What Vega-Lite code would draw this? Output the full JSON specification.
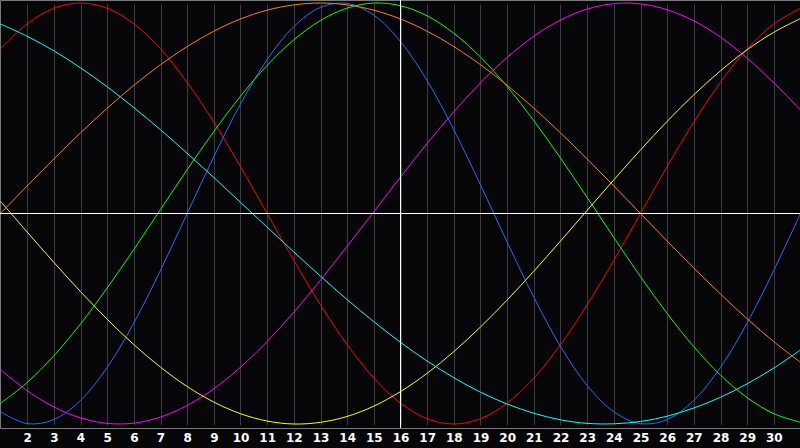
{
  "$schema": "https://vega.github.io/schema/vega-lite/v6.json",
  "width": 800,
  "height": 428,
  "autosize": "none",
  "padding": {"left": 0, "right": 0, "top": 0, "bottom": 20},
  "background": "#060609",
  "config": {"view": {"stroke": "#7a7a7a", "strokeWidth": 1, "fill": "#060609"}},
  "datasets": {
    "marks": [{"d": 16, "v": 0}],
    "cycles": [
    {"s":"Emotional","d":1,"v":0.782},{"s":"Emotional","d":2,"v":0.901},{"s":"Emotional","d":3,"v":0.975},{"s":"Emotional","d":4,"v":1},{"s":"Emotional","d":5,"v":0.975},{"s":"Emotional","d":6,"v":0.901},{"s":"Emotional","d":7,"v":0.782},{"s":"Emotional","d":8,"v":0.623},{"s":"Emotional","d":9,"v":0.434},{"s":"Emotional","d":10,"v":0.223},{"s":"Emotional","d":11,"v":0},{"s":"Emotional","d":12,"v":-0.223},{"s":"Emotional","d":13,"v":-0.434},{"s":"Emotional","d":14,"v":-0.623},{"s":"Emotional","d":15,"v":-0.782},{"s":"Emotional","d":16,"v":-0.901},{"s":"Emotional","d":17,"v":-0.975},{"s":"Emotional","d":18,"v":-1},{"s":"Emotional","d":19,"v":-0.975},{"s":"Emotional","d":20,"v":-0.901},{"s":"Emotional","d":21,"v":-0.782},{"s":"Emotional","d":22,"v":-0.623},{"s":"Emotional","d":23,"v":-0.434},{"s":"Emotional","d":24,"v":-0.223},{"s":"Emotional","d":25,"v":0},{"s":"Emotional","d":26,"v":0.223},{"s":"Emotional","d":27,"v":0.434},{"s":"Emotional","d":28,"v":0.623},{"s":"Emotional","d":29,"v":0.782},{"s":"Emotional","d":30,"v":0.901},{"s":"Emotional","d":31,"v":0.975},
    {"s":"Physical","d":1,"v":-0.942},{"s":"Physical","d":2,"v":-0.998},{"s":"Physical","d":3,"v":-0.979},{"s":"Physical","d":4,"v":-0.888},{"s":"Physical","d":5,"v":-0.731},{"s":"Physical","d":6,"v":-0.52},{"s":"Physical","d":7,"v":-0.27},{"s":"Physical","d":8,"v":0},{"s":"Physical","d":9,"v":0.27},{"s":"Physical","d":10,"v":0.52},{"s":"Physical","d":11,"v":0.731},{"s":"Physical","d":12,"v":0.888},{"s":"Physical","d":13,"v":0.979},{"s":"Physical","d":14,"v":0.998},{"s":"Physical","d":15,"v":0.942},{"s":"Physical","d":16,"v":0.817},{"s":"Physical","d":17,"v":0.631},{"s":"Physical","d":18,"v":0.398},{"s":"Physical","d":19,"v":0.136},{"s":"Physical","d":20,"v":-0.136},{"s":"Physical","d":21,"v":-0.398},{"s":"Physical","d":22,"v":-0.631},{"s":"Physical","d":23,"v":-0.817},{"s":"Physical","d":24,"v":-0.942},{"s":"Physical","d":25,"v":-0.998},{"s":"Physical","d":26,"v":-0.979},{"s":"Physical","d":27,"v":-0.888},{"s":"Physical","d":28,"v":-0.731},{"s":"Physical","d":29,"v":-0.52},{"s":"Physical","d":30,"v":-0.27},{"s":"Physical","d":31,"v":0},
    {"s":"Intellectual","d":1,"v":-0.902},{"s":"Intellectual","d":2,"v":-0.803},{"s":"Intellectual","d":3,"v":-0.676},{"s":"Intellectual","d":4,"v":-0.525},{"s":"Intellectual","d":5,"v":-0.354},{"s":"Intellectual","d":6,"v":-0.171},{"s":"Intellectual","d":7,"v":0.019},{"s":"Intellectual","d":8,"v":0.208},{"s":"Intellectual","d":9,"v":0.389},{"s":"Intellectual","d":10,"v":0.557},{"s":"Intellectual","d":11,"v":0.704},{"s":"Intellectual","d":12,"v":0.825},{"s":"Intellectual","d":13,"v":0.917},{"s":"Intellectual","d":14,"v":0.976},{"s":"Intellectual","d":15,"v":1.0},{"s":"Intellectual","d":16,"v":0.987},{"s":"Intellectual","d":17,"v":0.939},{"s":"Intellectual","d":18,"v":0.856},{"s":"Intellectual","d":19,"v":0.743},{"s":"Intellectual","d":20,"v":0.603},{"s":"Intellectual","d":21,"v":0.441},{"s":"Intellectual","d":22,"v":0.263},{"s":"Intellectual","d":23,"v":0.076},{"s":"Intellectual","d":24,"v":-0.114},{"s":"Intellectual","d":25,"v":-0.3},{"s":"Intellectual","d":26,"v":-0.475},{"s":"Intellectual","d":27,"v":-0.633},{"s":"Intellectual","d":28,"v":-0.768},{"s":"Intellectual","d":29,"v":-0.875},{"s":"Intellectual","d":30,"v":-0.951},{"s":"Intellectual","d":31,"v":-0.992},
    {"s":"Intuitive","d":1,"v":-0.741},{"s":"Intuitive","d":2,"v":-0.842},{"s":"Intuitive","d":3,"v":-0.919},{"s":"Intuitive","d":4,"v":-0.971},{"s":"Intuitive","d":5,"v":-0.997},{"s":"Intuitive","d":6,"v":-0.996},{"s":"Intuitive","d":7,"v":-0.967},{"s":"Intuitive","d":8,"v":-0.912},{"s":"Intuitive","d":9,"v":-0.833},{"s":"Intuitive","d":10,"v":-0.73},{"s":"Intuitive","d":11,"v":-0.608},{"s":"Intuitive","d":12,"v":-0.469},{"s":"Intuitive","d":13,"v":-0.317},{"s":"Intuitive","d":14,"v":-0.156},{"s":"Intuitive","d":15,"v":0.008},{"s":"Intuitive","d":16,"v":0.173},{"s":"Intuitive","d":17,"v":0.333},{"s":"Intuitive","d":18,"v":0.483},{"s":"Intuitive","d":19,"v":0.621},{"s":"Intuitive","d":20,"v":0.741},{"s":"Intuitive","d":21,"v":0.842},{"s":"Intuitive","d":22,"v":0.919},{"s":"Intuitive","d":23,"v":0.971},{"s":"Intuitive","d":24,"v":0.997},{"s":"Intuitive","d":25,"v":0.996},{"s":"Intuitive","d":26,"v":0.968},{"s":"Intuitive","d":27,"v":0.915},{"s":"Intuitive","d":28,"v":0.838},{"s":"Intuitive","d":29,"v":0.738},{"s":"Intuitive","d":30,"v":0.62},{"s":"Intuitive","d":31,"v":0.492},
    {"s":"Aesthetic","d":1,"v":0.058},{"s":"Aesthetic","d":2,"v":-0.088},{"s":"Aesthetic","d":3,"v":-0.232},{"s":"Aesthetic","d":4,"v":-0.371},{"s":"Aesthetic","d":5,"v":-0.502},{"s":"Aesthetic","d":6,"v":-0.623},{"s":"Aesthetic","d":7,"v":-0.73},{"s":"Aesthetic","d":8,"v":-0.822},{"s":"Aesthetic","d":9,"v":-0.896},{"s":"Aesthetic","d":10,"v":-0.951},{"s":"Aesthetic","d":11,"v":-0.986},{"s":"Aesthetic","d":12,"v":-1.0},{"s":"Aesthetic","d":13,"v":-0.992},{"s":"Aesthetic","d":14,"v":-0.964},{"s":"Aesthetic","d":15,"v":-0.915},{"s":"Aesthetic","d":16,"v":-0.846},{"s":"Aesthetic","d":17,"v":-0.759},{"s":"Aesthetic","d":18,"v":-0.656},{"s":"Aesthetic","d":19,"v":-0.539},{"s":"Aesthetic","d":20,"v":-0.411},{"s":"Aesthetic","d":21,"v":-0.274},{"s":"Aesthetic","d":22,"v":-0.131},{"s":"Aesthetic","d":23,"v":0.015},{"s":"Aesthetic","d":24,"v":0.16},{"s":"Aesthetic","d":25,"v":0.302},{"s":"Aesthetic","d":26,"v":0.438},{"s":"Aesthetic","d":27,"v":0.564},{"s":"Aesthetic","d":28,"v":0.678},{"s":"Aesthetic","d":29,"v":0.778},{"s":"Aesthetic","d":30,"v":0.861},{"s":"Aesthetic","d":31,"v":0.926},
    {"s":"Awareness","d":1,"v":0},{"s":"Awareness","d":2,"v":0.131},{"s":"Awareness","d":3,"v":0.259},{"s":"Awareness","d":4,"v":0.383},{"s":"Awareness","d":5,"v":0.5},{"s":"Awareness","d":6,"v":0.609},{"s":"Awareness","d":7,"v":0.707},{"s":"Awareness","d":8,"v":0.793},{"s":"Awareness","d":9,"v":0.866},{"s":"Awareness","d":10,"v":0.924},{"s":"Awareness","d":11,"v":0.966},{"s":"Awareness","d":12,"v":0.991},{"s":"Awareness","d":13,"v":1},{"s":"Awareness","d":14,"v":0.991},{"s":"Awareness","d":15,"v":0.966},{"s":"Awareness","d":16,"v":0.924},{"s":"Awareness","d":17,"v":0.866},{"s":"Awareness","d":18,"v":0.793},{"s":"Awareness","d":19,"v":0.707},{"s":"Awareness","d":20,"v":0.609},{"s":"Awareness","d":21,"v":0.5},{"s":"Awareness","d":22,"v":0.383},{"s":"Awareness","d":23,"v":0.259},{"s":"Awareness","d":24,"v":0.131},{"s":"Awareness","d":25,"v":0},{"s":"Awareness","d":26,"v":-0.131},{"s":"Awareness","d":27,"v":-0.259},{"s":"Awareness","d":28,"v":-0.383},{"s":"Awareness","d":29,"v":-0.5},{"s":"Awareness","d":30,"v":-0.609},{"s":"Awareness","d":31,"v":-0.707},
    {"s":"Spiritual","d":1,"v":0.9},{"s":"Spiritual","d":2,"v":0.842},{"s":"Spiritual","d":3,"v":0.773},{"s":"Spiritual","d":4,"v":0.692},{"s":"Spiritual","d":5,"v":0.602},{"s":"Spiritual","d":6,"v":0.503},{"s":"Spiritual","d":7,"v":0.398},{"s":"Spiritual","d":8,"v":0.286},{"s":"Spiritual","d":9,"v":0.171},{"s":"Spiritual","d":10,"v":0.053},{"s":"Spiritual","d":11,"v":-0.065},{"s":"Spiritual","d":12,"v":-0.183},{"s":"Spiritual","d":13,"v":-0.298},{"s":"Spiritual","d":14,"v":-0.409},{"s":"Spiritual","d":15,"v":-0.514},{"s":"Spiritual","d":16,"v":-0.612},{"s":"Spiritual","d":17,"v":-0.701},{"s":"Spiritual","d":18,"v":-0.78},{"s":"Spiritual","d":19,"v":-0.849},{"s":"Spiritual","d":20,"v":-0.905},{"s":"Spiritual","d":21,"v":-0.949},{"s":"Spiritual","d":22,"v":-0.98},{"s":"Spiritual","d":23,"v":-0.997},{"s":"Spiritual","d":24,"v":-0.999},{"s":"Spiritual","d":25,"v":-0.988},{"s":"Spiritual","d":26,"v":-0.963},{"s":"Spiritual","d":27,"v":-0.924},{"s":"Spiritual","d":28,"v":-0.873},{"s":"Spiritual","d":29,"v":-0.809},{"s":"Spiritual","d":30,"v":-0.734},{"s":"Spiritual","d":31,"v":-0.648}
    ]
  },
  "layer": [
    {
      "data": {"name": "cycles"},
      "mark": {"type": "line", "interpolate": "catmull-rom", "strokeWidth": 1, "clip": true},
      "encoding": {
        "x": {
          "field": "d", "type": "quantitative",
          "scale": {"domain": [1, 31], "range": [0.5, 800.5], "nice": false, "zero": false},
          "axis": {
            "values": [2,3,4,5,6,7,8,9,10,11,12,13,14,15,16,17,18,19,20,21,22,23,24,25,26,27,28,29,30],
            "grid": true, "gridColor": "#3c3c3c", "gridWidth": 1, "gridOpacity": 1,
            "domain": true, "domainColor": "#7a7a7a", "domainWidth": 1,
            "ticks": false, "labelColor": "#ffffff", "labelFont": "DejaVu Sans", "labelFontWeight": "bold",
            "labelFontSize": 12, "labelPadding": 4, "labelFlush": false, "labelOverlap": false, "labelBound": false, "title": null
          }
        },
        "y": {
          "field": "v", "type": "quantitative",
          "scale": {"domain": [-1, 1], "range": [424, 3], "nice": false, "zero": false},
          "axis": null
        },
        "color": {
          "field": "s", "type": "nominal",
          "scale": {
            "domain": ["Emotional", "Physical", "Intellectual", "Intuitive", "Aesthetic", "Awareness", "Spiritual"],
            "range": ["#ff0000", "#1e6eff", "#00ff00", "#ff00ff", "#ffff00", "#ff8000", "#00ffff"]
          },
          "legend": null
        }
      }
    },
    {
      "data": {"name": "marks"},
      "mark": {"type": "rule", "color": "#ffffff", "strokeWidth": 1},
      "encoding": {
        "x": {
          "field": "d", "type": "quantitative",
          "axis": {
            "values": [2,3,4,5,6,7,8,9,10,11,12,13,14,15,16,17,18,19,20,21,22,23,24,25,26,27,28,29,30],
            "grid": true, "gridColor": "#3c3c3c", "gridWidth": 1, "gridOpacity": 1,
            "domain": true, "domainColor": "#7a7a7a", "domainWidth": 1,
            "ticks": false, "labelColor": "#ffffff", "labelFont": "DejaVu Sans", "labelFontWeight": "bold",
            "labelFontSize": 12, "labelPadding": 4, "labelFlush": false, "labelOverlap": false, "labelBound": false, "title": null
          }
        }
      }
    },
    {
      "data": {"name": "marks"},
      "mark": {"type": "rule", "color": "#ffffff", "strokeWidth": 1},
      "encoding": {"y": {"field": "v", "type": "quantitative"}}
    }
  ]
}
